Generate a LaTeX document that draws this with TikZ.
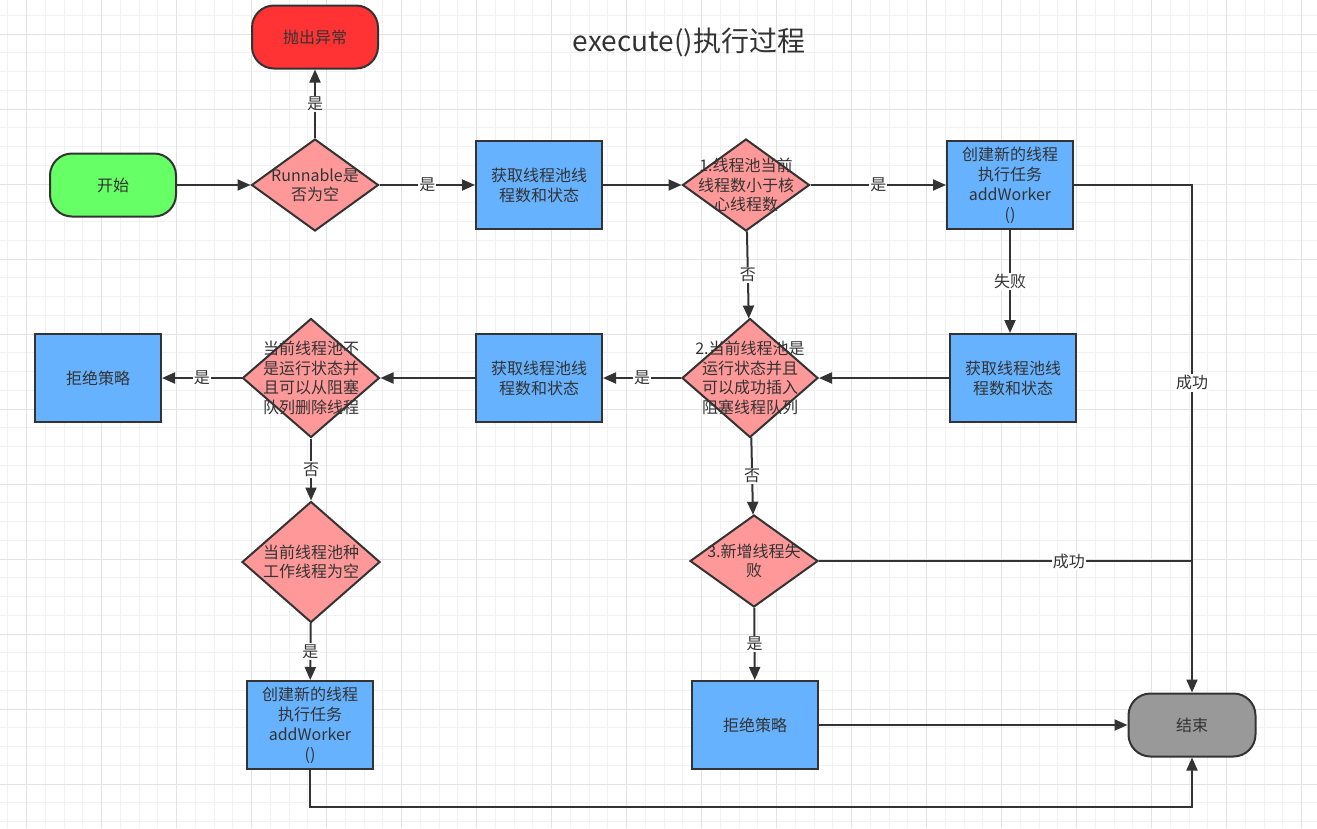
\documentclass[tikz,border=0pt]{standalone}
\usepackage{fontspec}
\setmainfont{Noto Sans CJK SC}
\usetikzlibrary{shapes.geometric,arrows.meta}
\definecolor{ln}{HTML}{333333}
\definecolor{txt}{HTML}{333333}
\definecolor{cgreen}{HTML}{66FF66}
\definecolor{cred}{HTML}{FF3333}
\definecolor{cpink}{HTML}{FF9999}
\definecolor{cblue}{HTML}{66B2FF}
\definecolor{cgray}{HTML}{999999}
\definecolor{gminor}{HTML}{F1F1F1}
\definecolor{gmajor}{HTML}{E3E3E3}
\tikzset{
  term/.style={draw=ln, line width=2pt, rounded corners=22pt, minimum width=126pt, minimum height=63pt, inner sep=0pt, font=\fontsize{16}{20}\selectfont, text=txt, align=center},
  proc/.style={draw=ln, line width=2pt, fill=cblue, minimum width=126pt, minimum height=88pt, inner sep=0pt, font=\fontsize{16}{20}\selectfont, text=txt, align=center},
  dec/.style={draw=ln, line width=2pt, fill=cpink, diamond, inner sep=0pt},
  dtext/.style={inner sep=0pt, font=\fontsize{16}{19.5}\selectfont, text=txt, align=center},
  conn/.style={draw=ln, line width=2pt, -{Triangle[length=13pt,width=11pt]}},
  plain/.style={draw=ln, line width=2pt},
  lbl/.style={fill=white, inner sep=1.2pt, font=\fontsize{16}{18}\selectfont, text=txt},
}
\begin{document}
\begin{tikzpicture}[x=1pt,y=-1pt]
\useasboundingbox (0,0) rectangle (1317,828);
\fill[white] (0,0) rectangle (1317,828);
% grid
\foreach \i in {0,...,70} {\draw[gminor, line width=1pt] ({7.95+18.75*\i},0) -- ({7.95+18.75*\i},828);}
\foreach \j in {0,...,44} {\draw[gminor, line width=1pt] (0,{15.25+18.75*\j}) -- (1317,{15.25+18.75*\j});}
\foreach \i in {0,...,17} {\draw[gmajor, line width=1pt] ({26.7+75*\i},0) -- ({26.7+75*\i},828);}
\foreach \j in {0,...,10} {\draw[gmajor, line width=1pt] (0,{34+75*\j}) -- (1317,{34+75*\j});}

% title
\node[text=txt, font=\fontsize{28}{32}\selectfont, inner sep=0pt] (title) at (689,42) {execute()执行过程};

% nodes
\node[term, fill=cgreen] (start) at (113,185) {开始};
\node[term, fill=cred] (exc) at (315,37) {抛出异常};
\node[dec, minimum width=127pt, minimum height=92pt] (dr) at (315,185) {};
\node[proc] (b1) at (539,185) {获取线程池线\\程数和状态};
\node[dec, minimum width=127pt, minimum height=92pt] (d1) at (746,185) {};
\node[proc] (aw1) at (1010,185) {创建新的线程\\执行任务\\addWorker\\()};
\node[proc] (b2) at (1013,378) {获取线程池线\\程数和状态};
\node[dec, minimum width=136pt, minimum height=119pt] (d2) at (750,378) {};
\node[proc] (b3) at (539,378) {获取线程池线\\程数和状态};
\node[dec, minimum width=137pt, minimum height=119pt] (d3) at (311,378) {};
\node[proc] (rej1) at (98,378) {拒绝策略};
\node[dec, minimum width=138pt, minimum height=121pt] (d4) at (311,562) {};
\node[proc] (aw2) at (310,725) {创建新的线程\\执行任务\\addWorker\\()};
\node[dec, minimum width=128pt, minimum height=92pt] (d5) at (754,561) {};
\node[proc] (rej2) at (755,725) {拒绝策略};
\node[term, fill=cgray, minimum width=127pt] (end) at (1192,725) {结束};

% coordinates
\coordinate (c1) at (1192,185);
\coordinate (c2) at (1192,561);
\coordinate (c3) at (310,807);
\coordinate (c4) at (1192,807);

% connectors
\draw[conn] (start) -- (dr);
\draw[conn] (dr) -- node[lbl] {是} (exc);
\draw[conn] (dr) -- node[lbl] {是} (b1);
\draw[conn] (b1) -- (d1);
\draw[conn] (d1) -- node[lbl] {是} (aw1);
\draw[conn] (aw1.east) -- (c1) -- node[lbl, pos=0.39] {成功} (end.north);
\draw[conn] (aw1.south) -- node[lbl] {失败} (aw1.south |- b2.north);
\draw[conn] (b2) -- (d2);
\draw[conn] (d1) -- node[lbl] {否} (d2);
\draw[conn] (d2) -- node[lbl] {是} (b3);
\draw[conn] (b3) -- (d3);
\draw[conn] (d3) -- node[lbl] {是} (rej1);
\draw[conn] (d3) -- node[lbl] {否} (d4);
\draw[conn] (d4) -- node[lbl] {是} (aw2);
\draw[conn] (aw2.south) -- (c3) -- (c4) -- (end.south);
\draw[conn] (d2) -- node[lbl] {否} (d5);
\draw[plain] (d5.east) -- node[lbl, pos=0.67] {成功} (c2);
\draw[conn] (d5) -- node[lbl] {是} (rej2);
\draw[conn] (rej2) -- (end);

% diamond texts
\node[dtext] (drt) at (dr.center) {Runnable是\\否为空};
\node[dtext] (d1t) at (d1.center) {1.线程池当前\\线程数小于核\\心线程数};
\node[dtext] (d2t) at (d2.center) {2.当前线程池是\\运行状态并且\\可以成功插入\\阻塞线程队列};
\node[dtext] (d3t) at (d3.center) {当前线程池不\\是运行状态并\\且可以从阻塞\\队列删除线程};
\node[dtext] (d4t) at (d4.center) {当前线程池种\\工作线程为空};
\node[dtext] (d5t) at (d5.center) {3.新增线程失\\败};
\end{tikzpicture}
\end{document}
